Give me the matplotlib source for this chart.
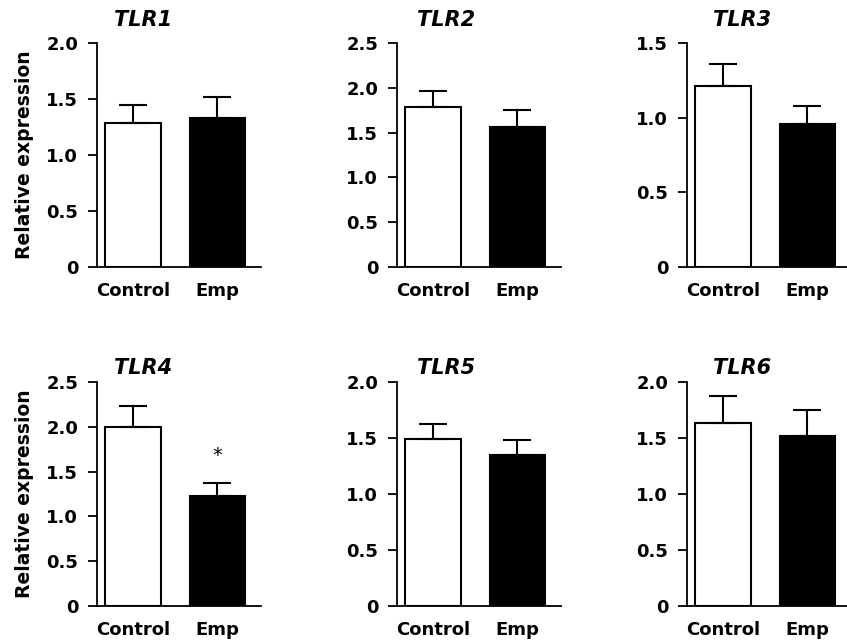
import numpy as np
import matplotlib
matplotlib.use("Agg")
import matplotlib.pyplot as plt
from matplotlib.ticker import FixedLocator

# Datos
genes = ["TLR1", "TLR2", "TLR3", "TLR4", "TLR5", "TLR6"]
grupos = ["Control", "Emp"]
control_media = [1.29, 1.79, 1.21, 2.00, 1.49, 1.63]
control_err = [0.16, 0.17, 0.15, 0.23, 0.135, 0.245]
emp_media = [1.33, 1.56, 0.96, 1.23, 1.35, 1.52]
emp_err = [0.19, 0.19, 0.12, 0.14, 0.13, 0.23]
y_max = [2.0, 2.5, 1.5, 2.5, 2.0, 2.0]
significativo = [False, False, False, True, False, False]

plt.rcParams["font.family"] = ["DejaVu Sans"]

fig = plt.figure(figsize=(8.47, 6.4), dpi=100)

# posiciones de los ejes en pixeles (izquierda, cero)
W, H = 847, 640
izquierdas = [97, 397, 687]
ceros = [267, 606]
altura = 224
ancho = 164
titulo_dx = [46, 49, 55]
titulo_dy = [13, 4]

for i, gen in enumerate(genes):
    fila, col = divmod(i, 3)
    ax = fig.add_axes([izquierdas[col] / W, (H - ceros[fila]) / H,
                       ancho / W, altura / H])
    x = np.arange(len(grupos))
    medias = [control_media[i], emp_media[i]]
    errores = [control_err[i], emp_err[i]]
    ax.bar(x, medias, width=0.66, color=["white", "black"],
           edgecolor="black", linewidth=1.5, zorder=2)
    ax.errorbar(x, medias, yerr=[[0, 0], errores], fmt="none",
                ecolor="black", elinewidth=1.5, capsize=10, capthick=1.5,
                zorder=3)
    if significativo[i]:
        ax.annotate("*", (1, emp_media[i] + emp_err[i]),
                    xytext=(0, 20), textcoords="offset points",
                    ha="center", va="center", fontsize=14)

    ax.set_xlim(-0.43, 1.52)
    ax.set_ylim(0, y_max[i])
    ticks = np.arange(0, y_max[i] + 0.01, 0.5)
    ax.yaxis.set_major_locator(FixedLocator(ticks))
    ax.set_yticklabels(["0"] + ["%.1f" % t for t in ticks[1:]])
    ax.set_xticks(x)
    ax.set_xticklabels(grupos)

    for lado in ["top", "right"]:
        ax.spines[lado].set_visible(False)
    for lado in ["left", "bottom"]:
        ax.spines[lado].set_linewidth(1.3)
    ax.tick_params(axis="y", direction="out", length=6.5, width=1.3,
                   pad=7, labelsize=13)
    ax.tick_params(axis="x", length=0, pad=11, labelsize=13)
    for lbl in ax.get_xticklabels() + ax.get_yticklabels():
        lbl.set_fontweight("bold")

    ax.annotate(gen, (titulo_dx[col] / ancho, 1), xycoords="axes fraction",
                xytext=(0, titulo_dy[fila] * 0.72), textcoords="offset points",
                ha="center", va="bottom", fontsize=15,
                fontweight="bold", fontstyle="italic")

    if col == 0:
        ax.set_ylabel("Relative expression", fontsize=13.5, fontweight="bold",
                      labelpad=9)

fig.savefig("out.png", dpi=100)
